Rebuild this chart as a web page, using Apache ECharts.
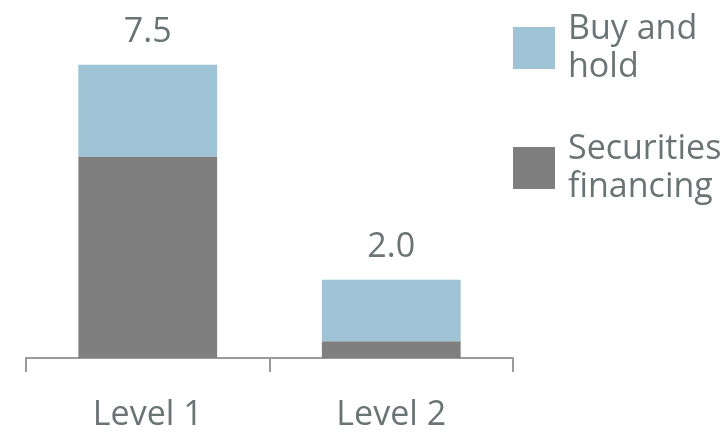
<!DOCTYPE html>
<html><head><meta charset="utf-8">
<script src="https://cdn.jsdelivr.net/npm/echarts@6/dist/echarts.min.js"></script>
<style>html,body{margin:0;padding:0;background:#fff}#c{width:725px;height:432px}</style>
</head><body><div id="c"></div>
<script>
var categories = ['Level 1', 'Level 2'];
var securitiesFinancing = [5.15, 0.43];
var buyAndHold = [2.35, 1.57];
var totals = [7.5, 2.0];
var legendLabels = {'Buy and hold': 'Buy and\nhold', 'Securities financing': 'Securities\nfinancing'};

var TEXT = '#6b7475';
var FONT = 'Open Sans';
var chart = echarts.init(document.getElementById('c'), null, {renderer: 'canvas'});
chart.setOption({
  animation: false,
  textStyle: {fontFamily: FONT},
  grid: {left: 26, right: 212, top: 6, bottom: 74, containLabel: false},
  legend: {
    orient: 'vertical', left: 508, top: 5,
    data: ['Buy and hold', 'Securities financing'],
    itemWidth: 42, itemHeight: 42, itemGap: 44,
    icon: 'rect',
    formatter: function (n) { return legendLabels[n]; },
    textStyle: {fontFamily: FONT, fontSize: 34, lineHeight: 38, color: TEXT, padding: [0, 0, 0, 8]}
  },
  xAxis: {
    type: 'category', data: categories,
    axisLine: {lineStyle: {color: '#9a9a9a', width: 2}},
    axisTick: {show: true, length: 14, lineStyle: {color: '#9a9a9a', width: 2}},
    axisLabel: {fontFamily: FONT, fontSize: 34, color: TEXT, margin: 40}
  },
  yAxis: {type: 'value', min: 0, max: 9, show: false, splitLine: {show: false}},
  series: [
    {name: 'Securities financing', type: 'bar', stack: 't', data: securitiesFinancing,
     barWidth: '57%', itemStyle: {color: '#7f7f7f'}},
    {name: 'Buy and hold', type: 'bar', stack: 't', data: buyAndHold,
     barWidth: '57%', itemStyle: {color: '#9dc3d4'},
     label: {show: true, position: 'top', distance: 15, fontFamily: FONT, fontSize: 34, color: TEXT,
       formatter: function (p) { return totals[p.dataIndex].toFixed(1); }}}
  ]
});
</script></body></html>
